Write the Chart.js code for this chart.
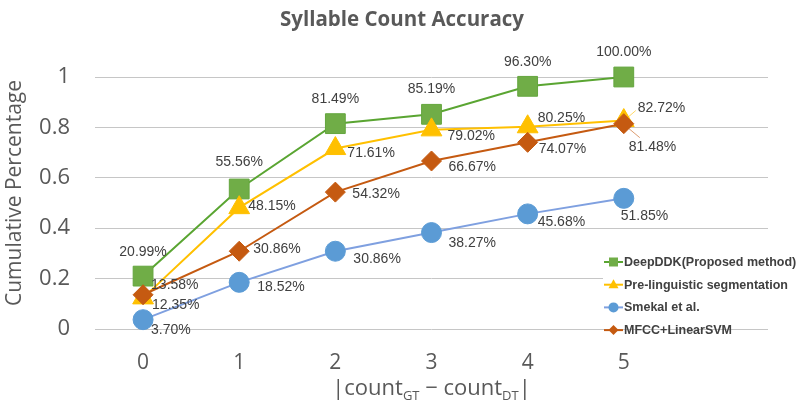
<!DOCTYPE html>
<html>
<head>
<meta charset="utf-8">
<style>
  html, body { margin: 0; padding: 0; background: #fff; }
</style>
</head>
<body>
<canvas id="myChart" width="800" height="405"></canvas>
<script src="https://cdn.jsdelivr.net/npm/chart.js"></script>
<script>

// values (cumulative fraction per |countGT - countDT|)
const categories = ['0', '1', '2', '3', '4', '5'];
const deepDDK = [0.2099, 0.5556, 0.8149, 0.8519, 0.9630, 1.0000];
const preLinguistic = [0.1235, 0.4815, 0.7161, 0.7902, 0.8025, 0.8272];
const smekal = [0.0370, 0.1852, 0.3086, 0.3827, 0.4568, 0.5185];
const mfccSvm = [0.1358, 0.3086, 0.5432, 0.6667, 0.7407, 0.8148];
const yTicks = [0, 0.2, 0.4, 0.6, 0.8, 1];

const GREEN = '#70AD47', GOLD = '#FFC000', BLUE = '#5B9BD5', RUST = '#C55A11';

function toPoints(arr) {
  return arr.map(function(v, i) { return { x: i, y: v }; });
}

function pct(v) { return (v * 100).toFixed(2) + '%'; }

// where each data label sits relative to its marker
const labelStyles = [
  { align: 'center', dx: [0, 0, 0, 0, 0, 0], dy: [-24, -27, -25, -25, -24, -25] },
  { align: 'left', dx: [9, 9, 12, 16, 10, 14], dy: [7, -2, 5, 6, -9, -12],
    leader: [null, null, null, null, null, [5, -4, 12, -10]] },
  { align: 'left', dx: [8, 18, 18, 17, 10, -3], dy: [10, 5, 8, 11, 8, 18] },
  { align: 'left', dx: [8, 14, 17, 17, 11, 5], dy: [-10, -2, 2, 6, 7, 23],
    leader: [null, null, null, null, null, [4, 4, 16, 14]] }
];

const legendItems = [
  { text: 'DeepDDK(Proposed method)', color: GREEN, line: '#5AA532', shape: 'rect' },
  { text: 'Pre-linguistic segmentation', color: GOLD, line: GOLD, shape: 'triangle' },
  { text: 'Smekal et al.', color: BLUE, line: '#7FA0E0', shape: 'circle' },
  { text: 'MFCC+LinearSVM', color: RUST, line: RUST, shape: 'diamond' }
];

function shape(ctx, kind, x, y, r) {
  ctx.beginPath();
  if (kind === 'rect') {
    ctx.rect(x - r, y - r, 2 * r, 2 * r);
  } else if (kind === 'triangle') {
    ctx.moveTo(x, y - r * 1.1);
    ctx.lineTo(x + r, y + r * 0.7);
    ctx.lineTo(x - r, y + r * 0.7);
    ctx.closePath();
  } else if (kind === 'circle') {
    ctx.arc(x, y, r, 0, Math.PI * 2);
  } else {
    ctx.moveTo(x, y - r);
    ctx.lineTo(x + r, y);
    ctx.lineTo(x, y + r);
    ctx.lineTo(x - r, y);
    ctx.closePath();
  }
  ctx.fill();
}

const labelPlugin = {
  id: 'pointLabels',
  afterDatasetsDraw: function(chart) {
    const ctx = chart.ctx;
    ctx.save();
    ctx.font = '14px "Liberation Sans", Arial, sans-serif';
    ctx.textBaseline = 'middle';
    chart.data.datasets.forEach(function(ds, i) {
      const meta = chart.getDatasetMeta(i);
      const st = labelStyles[i];
      meta.data.forEach(function(pt, j) {
        if (st.leader && st.leader[j]) {
          const l = st.leader[j];
          ctx.strokeStyle = ds.borderColor;
          ctx.globalAlpha = 0.6;
          ctx.lineWidth = 1;
          ctx.beginPath();
          ctx.moveTo(pt.x + l[0], pt.y + l[1]);
          ctx.lineTo(pt.x + l[2], pt.y + l[3]);
          ctx.stroke();
          ctx.globalAlpha = 1;
        }
        ctx.fillStyle = '#404040';
        ctx.textAlign = st.align;
        ctx.fillText(pct(ds.data[j].y), pt.x + st.dx[j], pt.y + st.dy[j]);
      });
    });
    ctx.restore();
  }
};

const extrasPlugin = {
  id: 'extras',
  afterDraw: function(chart) {
    const ctx = chart.ctx;
    const area = chart.chartArea;
    ctx.save();

    // chart title
    ctx.fillStyle = '#595959';
    ctx.font = 'bold 20.5px "Open Sans", sans-serif';
    ctx.textAlign = 'center';
    ctx.textBaseline = 'middle';
    ctx.fillText('Syllable Count Accuracy', 402, 20);

    // y axis title
    ctx.save();
    ctx.translate(15, 193);
    ctx.rotate(-Math.PI / 2);
    ctx.font = '21px "Open Sans", sans-serif';
    ctx.fillText('Cumulative Percentage', 0, 0);
    ctx.restore();

    // legend inside the plot, lower right
    ctx.fillStyle = '#fff';
    ctx.fillRect(603, 250, 197, 74);
    ctx.font = 'bold 12.5px "Liberation Sans", Arial, sans-serif';
    ctx.textBaseline = 'middle';
    ctx.textAlign = 'left';
    legendItems.forEach(function(it, i) {
      const y = 262 + i * 22.7;
      ctx.strokeStyle = it.line;
      ctx.lineWidth = 2;
      ctx.beginPath();
      ctx.moveTo(604, y);
      ctx.lineTo(623, y);
      ctx.stroke();
      ctx.fillStyle = it.color;
      shape(ctx, it.shape, 613.5, y, it.shape === 'rect' ? 4.5 : 5);
      ctx.fillStyle = '#404040';
      ctx.fillText(it.text, 624, y + 0.5);
    });

    // x axis title with subscripts
    const main = '22px "Open Sans", sans-serif';
    const sub = '13px "Open Sans", sans-serif';
    const parts = [
      ['|count', main, 0], ['GT', sub, 5], [' \u2212 count', main, 0], ['DT', sub, 5], ['|', main, 0]
    ];
    let total = 0;
    parts.forEach(function(p) { ctx.font = p[1]; total += ctx.measureText(p[0]).width; });
    let x = (area.left + area.right) / 2 - total / 2;
    ctx.fillStyle = '#595959';
    ctx.textBaseline = 'alphabetic';
    parts.forEach(function(p) {
      ctx.font = p[1];
      ctx.fillText(p[0], x, 395 + p[2]);
      x += ctx.measureText(p[0]).width;
    });
    ctx.restore();
  }
};

const datasets = [
  { label: 'DeepDDK(Proposed method)', data: toPoints(deepDDK), borderColor: '#5AA532',
    backgroundColor: GREEN, pointBackgroundColor: GREEN, pointBorderColor: '#64A63E',
    pointStyle: 'rect', pointRadius: 14, order: 4 },
  { label: 'Pre-linguistic segmentation', data: toPoints(preLinguistic), borderColor: GOLD,
    backgroundColor: GOLD, pointBackgroundColor: GOLD, pointBorderColor: GOLD,
    pointStyle: 'triangle', pointRadius: 12, order: 3 },
  { label: 'Smekal et al.', data: toPoints(smekal), borderColor: '#7FA0E0',
    backgroundColor: BLUE, pointBackgroundColor: BLUE, pointBorderColor: BLUE,
    pointStyle: 'circle', pointRadius: 10, order: 2 },
  { label: 'MFCC+LinearSVM', data: toPoints(mfccSvm), borderColor: RUST,
    backgroundColor: RUST, pointBackgroundColor: RUST, pointBorderColor: RUST,
    pointStyle: 'rectRot', pointRadius: 10, order: 1 }
];
datasets.forEach(function(d) {
  d.borderWidth = 2;
  d.pointBorderWidth = 1;
  d.tension = 0;
  d.clip = false;
});

const config = {
  type: 'line',
  data: { datasets: datasets },
  options: {
    responsive: false,
    animation: false,
    events: [],
    layout: { padding: { left: 3, right: 32, top: 77, bottom: 0 } },
    plugins: {
      legend: { display: false },
      tooltip: { enabled: false },
      title: { display: false }
    },
    scales: {
      x: {
        type: 'linear',
        min: -0.5,
        max: 6.5,
        afterBuildTicks: function(s) {
          s.ticks = categories.map(function(c, i) { return { value: i }; });
        },
        afterFit: function(s) { s.height = 76; },
        grid: { display: false, drawTicks: false },
        border: { display: false },
        ticks: {
          color: '#595959',
          font: { family: 'Open Sans', size: 21 },
          padding: 21,
          maxRotation: 0,
          autoSkip: false,
          callback: function(v) { return categories[v]; }
        }
      },
      y: {
        min: 0,
        max: 1,
        afterBuildTicks: function(s) {
          s.ticks = yTicks.map(function(v) { return { value: v }; });
        },
        afterFit: function(s) { s.width = 92; },
        grid: { color: '#C6C6C6', lineWidth: 1, drawTicks: false },
        border: { display: false },
        ticks: {
          color: '#595959',
          font: { family: 'Open Sans', size: 22 },
          padding: 25,
          callback: function(v) { return String(v); }
        }
      }
    }
  },
  plugins: [labelPlugin, extrasPlugin]
};

var chart = new Chart('myChart', config);

</script>
</body>
</html>
